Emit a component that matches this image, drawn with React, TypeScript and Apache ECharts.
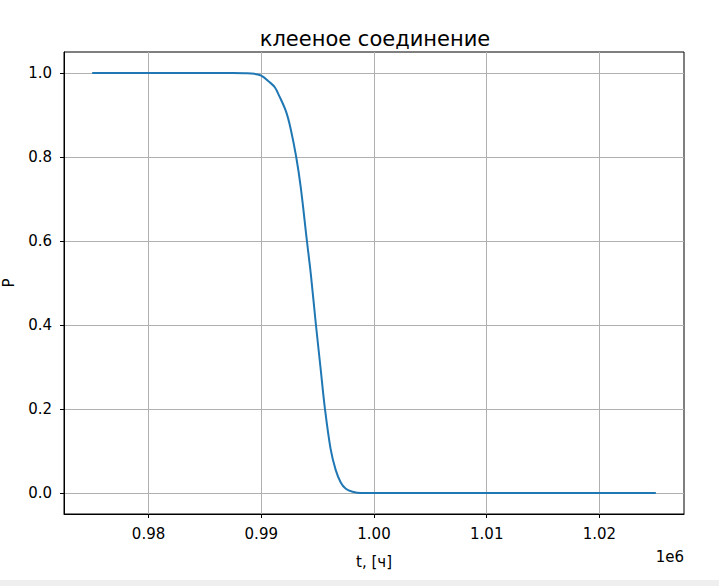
import React, { useEffect, useRef } from "react";
import * as echarts from "echarts";

const title = "клееное соединение";
const xName = "t, [ч]";
const yName = "P";
const xTicks = [980000, 990000, 1000000, 1010000, 1020000];
const yTicks = [0, 0.2, 0.4, 0.6, 0.8, 1.0];
const tValues = [
  975000, 980000, 985000, 987500, 988500, 989400, 990000, 990700, 991200,
  991600, 992200, 992600, 993100, 993500, 994050, 994400, 994850, 995250,
  995650, 996150, 996600, 997050, 997500, 998100, 998850, 1000000, 1010000,
  1025000,
];
const pValues = [
  1.0, 1.0, 1.0, 0.9999, 0.9993, 0.998, 0.994, 0.979, 0.966, 0.945, 0.908,
  0.868, 0.8, 0.728, 0.6, 0.52, 0.4, 0.3, 0.2, 0.105, 0.055, 0.025, 0.01,
  0.003, 0.0, 0.0, 0.0, 0.0,
];

export default function App() {
  const ref = useRef<HTMLDivElement>(null);
  useEffect(() => {
    if (!ref.current) return;
    const chart = echarts.init(ref.current, null, { renderer: "svg" });
    const font = "DejaVu Sans";
    chart.setOption({
      animation: false,
      backgroundColor: "#ffffff",
      title: {
        text: title,
        left: 370,
        top: 23,
        textAlign: "center",
        textStyle: { fontFamily: font, fontSize: 21, fontWeight: "normal", color: "#000" },
      },
      grid: {
        left: 64,
        top: 52,
        width: 620,
        height: 462,
        show: true,
        borderColor: "#000",
        borderWidth: 1,
        backgroundColor: "transparent",
        containLabel: false,
        outerBoundsMode: "none",
      },
      xAxis: {
        type: "value",
        min: 972500,
        max: 1027500,
        axisLine: { show: true, onZero: false, lineStyle: { color: "#000", width: 1 } },
        axisTick: { show: true, length: 4, lineStyle: { color: "#000" }, customValues: xTicks },
        axisLabel: {
          customValues: xTicks,
          fontFamily: font,
          fontSize: 15,
          color: "#000",
          margin: 12,
          formatter: (v: number) => (v / 1e6).toFixed(2),
        },
        splitLine: { show: true, lineStyle: { color: "#b0b0b0", width: 1 } },
        name: xName,
        nameLocation: "middle",
        nameGap: 40,
        nameTextStyle: { fontFamily: font, fontSize: 15, color: "#000" },
      },
      yAxis: {
        type: "value",
        min: -0.05,
        max: 1.05,
        axisLine: { show: true, onZero: false, lineStyle: { color: "#000", width: 1 } },
        axisTick: { show: true, length: 4, lineStyle: { color: "#000" }, customValues: yTicks },
        axisLabel: {
          customValues: yTicks,
          fontFamily: font,
          fontSize: 15,
          color: "#000",
          margin: 12,
          formatter: (v: number) => v.toFixed(1),
        },
        splitLine: { show: true, lineStyle: { color: "#b0b0b0", width: 1 } },
      },
      graphic: [
        {
          type: "text",
          right: 35,
          top: 549,
          style: { text: "1e6", font: `15px ${font}`, fill: "#000" },
        },
        {
          type: "text",
          x: 9,
          y: 283,
          rotation: Math.PI / 2,
          style: {
            text: yName,
            font: `15px ${font}`,
            fill: "#000",
            align: "center",
            verticalAlign: "middle",
          },
        },
      ],
      series: [
        {
          type: "line",
          data: tValues.map((t, i) => [t, pValues[i]]),
          showSymbol: false,
          smooth: 0.35,
          lineStyle: { color: "#1f77b4", width: 2 },
        },
      ],
    });
    return () => chart.dispose();
  }, []);
  return (
    <div style={{ position: "absolute", left: 0, top: 0, width: 719, height: 586, background: "#efefef" }}>
      <div ref={ref} style={{ width: 719, height: 580, background: "#fff" }} />
    </div>
  );
}
